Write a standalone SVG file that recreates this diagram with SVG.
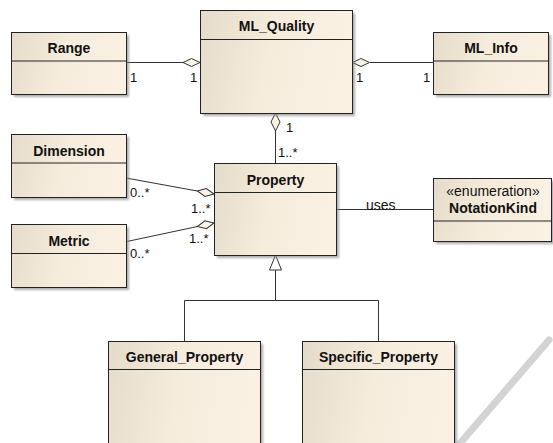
<svg xmlns="http://www.w3.org/2000/svg" width="553" height="443" viewBox="0 0 553 443">
<defs>
<linearGradient id="fill" x1="0" y1="0" x2="1" y2="0.15">
<stop offset="0" stop-color="#e5dbca"/>
<stop offset="0.5" stop-color="#f6ecdc"/>
<stop offset="1" stop-color="#fbf1e3"/>
</linearGradient>
<filter id="blur" x="-10%" y="-10%" width="120%" height="120%"><feGaussianBlur stdDeviation="0.8"/></filter>
</defs>
<style>
.box{fill:url(#fill);stroke:#222;stroke-width:1}
.sh{fill:#8c8c8c;opacity:0.7;filter:url(#blur)}
.div{stroke:#222;stroke-width:1}
.t{font-family:"Liberation Sans",Arial,sans-serif;font-size:14px;font-weight:bold;fill:#111;text-anchor:middle}
.st{font-family:"Liberation Sans",Arial,sans-serif;font-size:14px;fill:#111;text-anchor:middle}
.lbl{font-family:"Liberation Sans",Arial,sans-serif;font-size:13px;fill:#111}
.ln{stroke:#333;stroke-width:1;fill:none}
.dia{fill:#fbf3e4;stroke:#333;stroke-width:1}
.gen{fill:#fff;stroke:#333;stroke-width:1}
</style>
<rect width="553" height="443" fill="#fff"/>
<line x1="549" y1="340" x2="456" y2="448" stroke="#d3d3d3" stroke-width="7" stroke-linecap="round"/>

<g id="connectors">
<line class="ln" x1="126" y1="62.5" x2="183" y2="62.5"/>
<path class="dia" d="M200,62.5 L191.5,58.5 L183,62.5 L191.5,66.5 Z"/>
<line class="ln" x1="370" y1="62.5" x2="433" y2="62.5"/>
<path class="dia" d="M352.5,62.5 L361,58.5 L369.5,62.5 L361,66.5 Z"/>
<line class="ln" x1="275.5" y1="131" x2="275.5" y2="163"/>
<path class="dia" d="M275.5,113 L280,122 L275.5,131 L271,122 Z"/>
<line class="ln" x1="126" y1="178" x2="197.3" y2="191"/>
<path class="dia" d="M0,0 L-8.5,-4 L-17,0 L-8.5,4 Z" transform="translate(214,194) rotate(10.3)"/>
<line class="ln" x1="126" y1="241.7" x2="197.4" y2="226.5"/>
<path class="dia" d="M0,0 L-8.5,-4 L-17,0 L-8.5,4 Z" transform="translate(214,223) rotate(-12)"/>
<line class="ln" x1="336" y1="209.5" x2="433" y2="209.5"/>
<path class="ln" d="M275.5,270 V300.5 M184.5,341 V300.5 H378.5 V341"/>
<path class="gen" d="M275.5,255 L281.5,270 L269.5,270 Z"/>
<text class="lbl" x="130" y="82">1</text>
<text class="lbl" x="190" y="82">1</text>
<text class="lbl" x="356" y="82">1</text>
<text class="lbl" x="423" y="82">1</text>
<text class="lbl" x="286" y="132">1</text>
<text class="lbl" x="278" y="157">1..*</text>
<text class="lbl" x="130" y="197">0..*</text>
<text class="lbl" x="191" y="213">1..*</text>
<text class="lbl" x="189" y="243">1..*</text>
<text class="lbl" x="130" y="258">0..*</text>
<rect x="366" y="199" width="33" height="10" fill="#fff"/>
<text class="lbl" x="366" y="210" style="font-size:14px">uses</text>
</g>

<g id="Range">
<rect class="sh" x="14" y="35" width="115" height="62"/>
<rect class="box" x="11.5" y="32.5" width="115" height="62"/>
<line class="div" x1="11.5" y1="61" x2="126.5" y2="61"/>
<text class="t" x="69" y="53">Range</text>
</g>
<g id="ML_Quality">
<rect class="sh" x="203" y="13" width="152" height="103"/>
<rect class="box" x="200.5" y="10.5" width="152" height="103"/>
<line class="div" x1="200.5" y1="39.5" x2="352.5" y2="39.5"/>
<text class="t" x="276.5" y="31">ML_Quality</text>
</g>
<g id="ML_Info">
<rect class="sh" x="436" y="35" width="115" height="62"/>
<rect class="box" x="433.5" y="32.5" width="115" height="62"/>
<line class="div" x1="433.5" y1="61" x2="548.5" y2="61"/>
<text class="t" x="491" y="53">ML_Info</text>
</g>
<g id="Dimension">
<rect class="sh" x="14" y="137" width="115" height="63"/>
<rect class="box" x="11.5" y="134.5" width="115" height="63"/>
<line class="div" x1="11.5" y1="163" x2="126.5" y2="163"/>
<text class="t" x="69" y="156">Dimension</text>
</g>
<g id="Metric">
<rect class="sh" x="14" y="227" width="115" height="63"/>
<rect class="box" x="11.5" y="224.5" width="115" height="63"/>
<line class="div" x1="11.5" y1="253.5" x2="126.5" y2="253.5"/>
<text class="t" x="69" y="246">Metric</text>
</g>
<g id="Property">
<rect class="sh" x="217" y="166" width="122" height="92"/>
<rect class="box" x="214.5" y="163.5" width="122" height="92"/>
<line class="div" x1="214.5" y1="192.5" x2="336.5" y2="192.5"/>
<text class="t" x="275.5" y="185">Property</text>
</g>
<g id="NotationKind">
<rect class="sh" x="436" y="181" width="118" height="63"/>
<rect class="box" x="433.5" y="178.5" width="118" height="63"/>
<line class="div" x1="433.5" y1="221" x2="551.5" y2="221"/>
<text class="st" x="493" y="196">«enumeration»</text>
<text class="t" x="493" y="213">NotationKind</text>
</g>
<g id="General_Property">
<rect class="sh" x="111" y="344" width="152" height="120"/>
<rect class="box" x="108.5" y="341.5" width="152" height="120"/>
<line class="div" x1="108.5" y1="369.5" x2="260.5" y2="369.5"/>
<text class="t" x="184.5" y="362">General_Property</text>
</g>
<g id="Specific_Property">
<rect class="sh" x="305" y="344" width="152" height="120"/>
<rect class="box" x="302.5" y="341.5" width="152" height="120"/>
<line class="div" x1="302.5" y1="369.5" x2="454.5" y2="369.5"/>
<text class="t" x="378.5" y="362">Specific_Property</text>
</g>
</svg>
